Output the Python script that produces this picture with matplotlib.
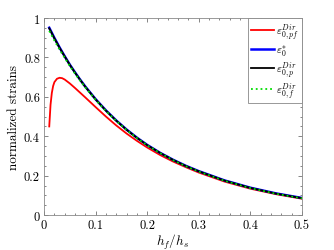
import numpy as np
import matplotlib
matplotlib.use('Agg')
import matplotlib.pyplot as plt
from matplotlib.ticker import MultipleLocator

plt.rcParams['font.family'] = 'serif'
plt.rcParams['font.serif'] = ['cmr10', 'DejaVu Serif']
plt.rcParams['mathtext.fontset'] = 'cm'
plt.rcParams['axes.formatter.use_mathtext'] = True

# h_f/h_s values
H = [0.01, 0.02, 0.03, 0.04, 0.05, 0.06, 0.07, 0.08, 0.1, 0.12, 0.14, 0.16,
     0.18, 0.2, 0.225, 0.25, 0.275, 0.3, 0.35, 0.4, 0.45, 0.5]

# eps_0,p^Dir (black), eps_0^* (blue), eps_0,f^Dir (green)
EpsP = [0.948, 0.897, 0.849, 0.805, 0.762, 0.723, 0.686, 0.651, 0.587, 0.530,
        0.479, 0.433, 0.392, 0.355, 0.3155, 0.280, 0.249, 0.222, 0.175, 0.138,
        0.109, 0.086]
EpsStar = [0.951, 0.899, 0.851, 0.806, 0.763, 0.724, 0.687, 0.652, 0.588, 0.531,
           0.480, 0.434, 0.393, 0.356, 0.316, 0.281, 0.250, 0.223, 0.176, 0.139,
           0.110, 0.087]
EpsF = [0.935, 0.886, 0.840, 0.798, 0.756, 0.718, 0.682, 0.648, 0.585, 0.528,
        0.478, 0.432, 0.391, 0.354, 0.315, 0.279, 0.248, 0.221, 0.174, 0.137,
        0.108, 0.085]

# eps_0,pf^Dir (red)
Hred = [0.01, 0.0125, 0.015, 0.0175, 0.02, 0.025, 0.03, 0.035, 0.04, 0.05,
        0.06, 0.07, 0.08, 0.1, 0.12, 0.14, 0.16, 0.18, 0.2, 0.225, 0.25, 0.275,
        0.3, 0.35, 0.4, 0.45, 0.5]
EpsPF = [0.45, 0.56, 0.62, 0.655, 0.675, 0.692, 0.697, 0.695, 0.688, 0.668,
         0.645, 0.621, 0.597, 0.548, 0.50, 0.455, 0.414, 0.377, 0.343, 0.305,
         0.272, 0.243, 0.216, 0.170, 0.134, 0.106, 0.083]

fig = plt.figure(figsize=(3.34, 2.51), dpi=100)
ax = fig.add_axes([0.132, 0.139, 0.772, 0.785])

ax.plot(Hred, EpsPF, 'r', linewidth=1.3, label=r'$\varepsilon_{0,pf}^{Dir}$')
ax.plot(H, EpsStar, 'b', linewidth=1.8, label=r'$\varepsilon_{0}^{*}$')
ax.plot(H, EpsP, 'k', linewidth=1.3, label=r'$\varepsilon_{0,p}^{Dir}$')
ax.plot(H, EpsF, color='#00dd00', linestyle=':', linewidth=1.3,
        label=r'$\varepsilon_{0,f}^{Dir}$')

ax.set_xlim(0, 0.5)
ax.set_ylim(0, 1)
ax.xaxis.set_minor_locator(MultipleLocator(0.02))
ax.yaxis.set_minor_locator(MultipleLocator(0.05))
ax.set_xticks([0, 0.1, 0.2, 0.3, 0.4, 0.5])
ax.set_xticklabels(['0', '0.1', '0.2', '0.3', '0.4', '0.5'])
ax.set_yticks([0, 0.2, 0.4, 0.6, 0.8, 1])
ax.set_yticklabels(['0', '0.2', '0.4', '0.6', '0.8', '1'])
ax.tick_params(which='both', direction='in', top=True, right=True,
               labelsize=9, color='#555555', pad=3)
ax.tick_params(which='major', length=3, width=0.5)
ax.tick_params(which='minor', length=1.5, width=0.5)
for s in ax.spines.values():
    s.set_color('#888888')
    s.set_linewidth(0.6)

ax.set_xlabel(r'$h_f/h_s$', fontsize=9.5, labelpad=0)
ax.set_ylabel('normalized strains', fontsize=9.5, labelpad=3)

leg = ax.legend(loc='upper right', fontsize=8, handlelength=2.0,
                borderaxespad=0.0, fancybox=False, framealpha=1,
                labelspacing=0.15, handletextpad=0.2, borderpad=0.3)
leg.get_frame().set_edgecolor('#888888')
leg.get_frame().set_linewidth(0.6)

plt.savefig('out.png', dpi=100)
